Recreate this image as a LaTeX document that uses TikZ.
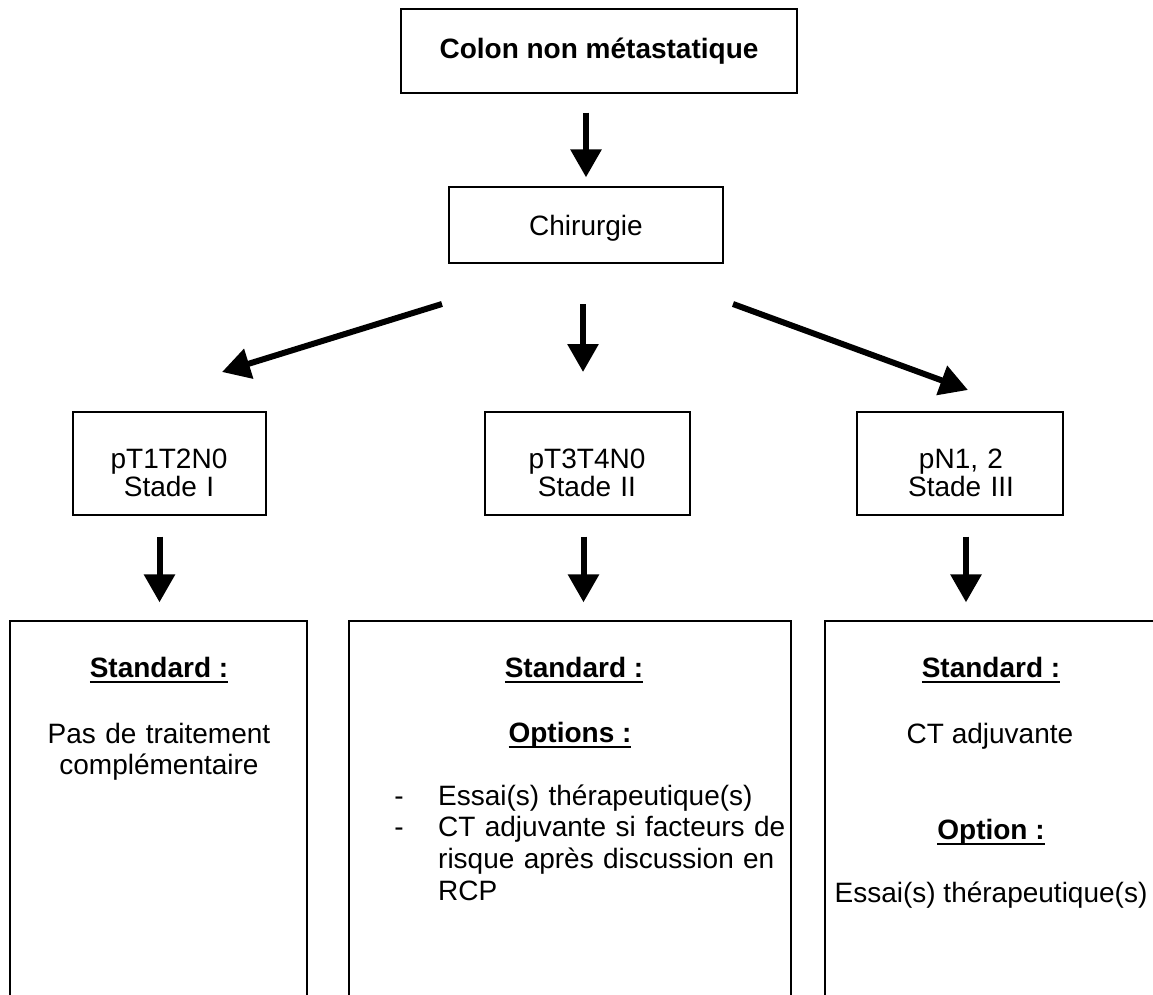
\documentclass[tikz,border=0pt]{standalone}
\usepackage{fontspec}
\setmainfont{Liberation Sans}
\usetikzlibrary{arrows.meta,positioning}

\tikzset{
  boite/.style={draw, line width=1.3pt, inner sep=0pt},
  fleche/.style={line width=6pt, -{Triangle[length=28pt,width=30pt]}},
  texte/.style={inner sep=0pt, anchor=base},
}
\newsavebox{\titrebox}
\newcommand{\titre}[1]{\sbox{\titrebox}{\textbf{#1}}\rlap{\rule[-6pt]{\wd\titrebox}{2pt}}\usebox{\titrebox}}

\begin{document}
\begin{tikzpicture}[x=1pt, y=-1pt, font=\fontsize{28}{31.7}\selectfont]
    \useasboundingbox (0,0) rectangle (1153,995);
    \clip (0,0) rectangle (1153,995);

    % Top of the tree
    \node[boite, minimum width=396pt, minimum height=84pt,
          font=\fontsize{28}{31.7}\selectfont\bfseries] (colon) at (599,51) {Colon non métastatique};
    \node[boite, minimum width=274pt, minimum height=76pt, text depth=0pt] (chir) at (586,225) {Chirurgie};

    % Stages
    \node[boite, minimum width=193pt, minimum height=103pt] (s1) at (169.5,463.5) {};
    \node[boite, minimum width=205pt, minimum height=103pt] (s2) at (587.5,463.5) {};
    \node[boite, minimum width=206pt, minimum height=103pt] (s3) at (960,463.5) {};
    \node[texte, text width=190pt, align=center, font=\fontsize{28}{28}\selectfont] (t1) at (169,468) {pT1T2N0\\Stade I};
    \node[texte, text width=200pt, align=center, font=\fontsize{28}{28}\selectfont] (t2) at (587,468) {pT3T4N0\\Stade II};
    \node[texte, text width=200pt, align=center, font=\fontsize{28}{28}\selectfont] (t3) at (961,468) {pN1, 2\\Stade III};

    % Treatment boxes (cut at the bottom)
    \node[boite, minimum width=297pt, minimum height=389pt] (r1) at (158.5,815.5) {};
    \node[boite, minimum width=442pt, minimum height=389pt] (r2) at (570,815.5) {};
    \node[boite, minimum width=375pt, minimum height=389pt] (r3) at (1012.5,815.5) {};

    % Stade I
    \node[texte] (r1a) at (159,677) {\titre{Standard :}};
    \node[texte, text width=280pt, align=center] (r1b) at (159,743) {Pas de traitement\\complémentaire};

    % Stade II
    \node[texte] (r2a) at (574,677) {\titre{Standard :}};
    \node[texte] (r2b) at (570,742) {\titre{Options :}};
    \node[texte, text width=20pt, align=center] (r2c) at (399,805) {-\\-};
    \node[texte, anchor=base west, text width=350pt, align=left] (r2d) at (438,805)
        {Essai(s) thérapeutique(s)\\CT adjuvante si facteurs de\\risque après discussion en\\RCP};

    % Stade III
    \node[texte] (r3a) at (991,677) {\titre{Standard :}};
    \node[texte] (r3b) at (990,743) {CT adjuvante};
    \node[texte] (r3c) at (991,839) {\titre{Option :}};
    \node[texte] (r3d) at (991,902) {Essai(s) thérapeutique(s)};

    % Arrows
    \coordinate (g0) at (442,304);
    \coordinate (g1) at (222,372);
    \coordinate (m0) at (583,304);
    \coordinate (m1) at (583,372);
    \coordinate (d0) at (733,304);
    \coordinate (d1) at (968,390);

    \draw[fleche, shorten <=19pt, shorten >=9pt] (colon.south -| chir) -- (chir.north);
    \draw[fleche] (g0) -- (g1);
    \draw[fleche] (m0) -- (m1);
    \draw[fleche] (d0) -- (d1);
    \draw[fleche, shorten <=21pt, shorten >=18pt] ([xshift=-10pt]s1.south) -- ([xshift=-10pt]s1.south |- r1.north);
    \draw[fleche, shorten <=21pt, shorten >=18pt] ([xshift=-4pt]s2.south) -- ([xshift=-4pt]s2.south |- r2.north);
    \draw[fleche, shorten <=21pt, shorten >=18pt] ([xshift=6pt]s3.south) -- ([xshift=6pt]s3.south |- r3.north);
\end{tikzpicture}
\end{document}
